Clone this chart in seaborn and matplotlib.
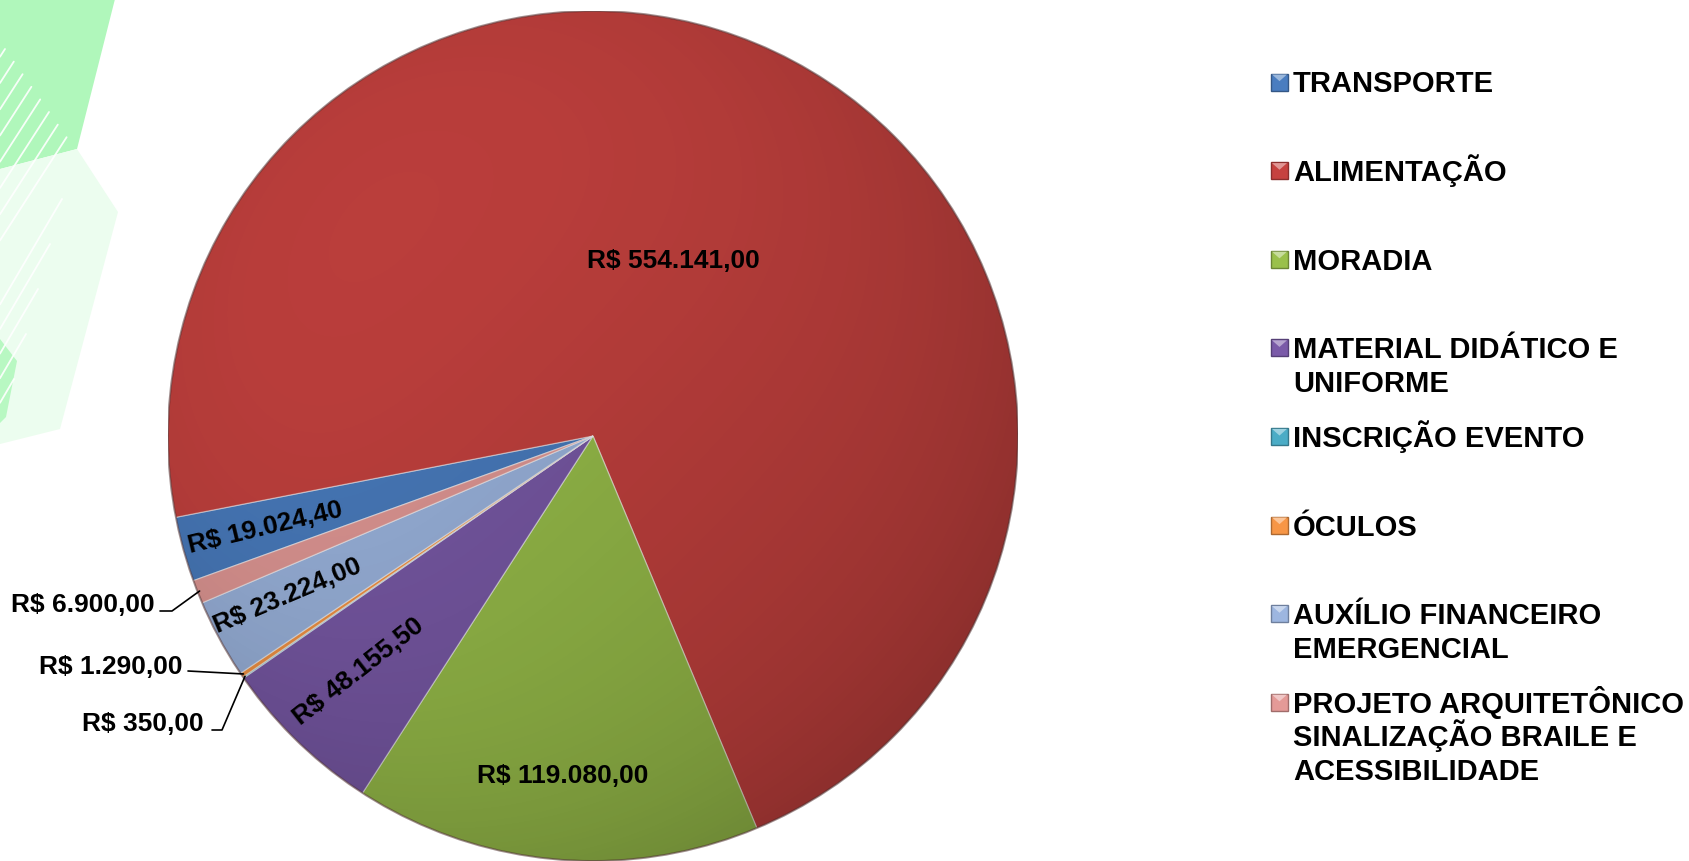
import textwrap
import numpy as np
import matplotlib
matplotlib.use("Agg")
import matplotlib.pyplot as plt
import seaborn as sns
from matplotlib.patches import Polygon, Rectangle, Circle
from matplotlib.colors import to_rgb

# ---------------- data ----------------
categories = ["TRANSPORTE", "ALIMENTAÇÃO", "MORADIA", "MATERIAL DIDÁTICO E UNIFORME",
              "INSCRIÇÃO EVENTO", "ÓCULOS", "AUXÍLIO FINANCEIRO EMERGENCIAL",
              "PROJETO ARQUITETÔNICO SINALIZAÇÃO BRAILE E ACESSIBILIDADE"]
values = [19024.40, 554141.00, 119080.00, 48155.50, 350.00, 1290.00, 23224.00, 6900.00]
colors = ["#4A7DC0", "#C6423F", "#9AC04B", "#7A5AA8", "#4BACC6", "#F79646", "#9DB6E0", "#E49A97"]


def brl(v):
    s = f"{v:,.2f}"
    return "R$ " + s.replace(",", "X").replace(".", ",").replace("X", ".")


value_labels = [brl(v) for v in values]

# ---------------- style ----------------
sns.set_theme(style="white")
plt.rcParams["font.family"] = ["Liberation Sans", "DejaVu Sans"]

W, H = 1690, 862
CX, CY, R = 593, 437, 425

fig = plt.figure(figsize=(W / 100, H / 100), dpi=100)
fig.patch.set_facecolor("white")


def fx(px):
    return px / W


def fy(py):
    return 1 - py / H


# decorative background shapes (left)
deco = [
    ([(0, 0), (115, 0), (77, 150), (0, 170)], "#B0F7BB"),
    ([(77, 150), (118, 213), (60, 430), (0, 445), (0, 170)], "#ECFDEF"),
    ([(0, 340), (17, 362), (6, 418), (0, 424)], "#B8F8C2"),
]
for pts, c in deco:
    fig.add_artist(Polygon([(fx(x), fy(y)) for x, y in pts], closed=True,
                           transform=fig.transFigure, fc=c, ec="none", zorder=-2))
for k in range(8):
    x0, y0 = 5 + 8.8 * k, 50 + 12.6 * k
    L = x0
    fig.add_artist(plt.Line2D([fx(x0), fx(0)], [fy(y0), fy(y0 + 1.55 * L)],
                              transform=fig.transFigure, color="white", lw=1.3,
                              alpha=0.9, zorder=-1))
for k in range(5):
    x0, y0 = 62 - 12 * k, 200 + 45 * k
    fig.add_artist(plt.Line2D([fx(x0), fx(0)], [fy(y0), fy(y0 + 1.7 * x0)],
                              transform=fig.transFigure, color="white", lw=1.3,
                              alpha=0.9, zorder=-1))

# ---------------- pie ----------------
ax = fig.add_axes([(CX - R) / W, (H - CY - R) / H, 2 * R / W, 2 * R / H])
wedges, _ = ax.pie(values, colors=colors, startangle=199.9, counterclock=False,
                   radius=1.0,
                   wedgeprops=dict(edgecolor=(1, 1, 1, 0.5), linewidth=0.9))

# shading overlay (darker towards bottom-right)
n = 300
xs = np.linspace(-1, 1, n)
X, Y = np.meshgrid(xs, xs)
t = np.clip((X - Y + 2) / 4, 0, 1)
rad = np.sqrt(X ** 2 + Y ** 2)
rgba = np.zeros((n, n, 4))
rgba[..., 3] = 0.28 * t ** 1.3 + 0.06 * np.clip(rad, 0, 1) ** 4
im = ax.imshow(rgba, extent=(-1, 1, -1, 1), origin="lower", zorder=3,
               interpolation="bilinear")
im.set_clip_path(Circle((0, 0), 1, transform=ax.transData))
ax.add_patch(Circle((0, 0), 1, fill=False, ec=(0.2, 0.05, 0.05, 0.45), lw=1.4, zorder=4))

ax.set_xlim(-1, 1)
ax.set_ylim(-1, 1)
ax.set_aspect("equal")
ax.axis("off")

mids = [np.deg2rad((w.theta1 + w.theta2) / 2) for w in wedges]

label_fs = 19
# index: (radius fraction, text rotation, angular offset in degrees)
inner = {0: (0.80, 13.5, 0), 1: (0.455, 0, 3.7), 2: (0.80, 0, 0),
         3: (0.78, 38, -1), 6: (0.81, 23, -1)}
for i, (r, rot, dth) in inner.items():
    a = mids[i] + np.deg2rad(dth)
    ax.text(r * np.cos(a), r * np.sin(a), value_labels[i], fontsize=label_fs,
            fontweight="bold", ha="center", va="center", rotation=rot,
            rotation_mode="anchor", color="black", zorder=6)


def p2d(px, py):
    return (px - CX) / R, (CY - py) / R


external = {
    7: dict(text=(155, 603), path=[(160, 612), (172, 612)]),
    5: dict(text=(183, 665), path=[(188, 672)]),
    4: dict(text=(204, 722), path=[(212, 731), (222, 731)]),
}
for i, spec in external.items():
    tx, ty = p2d(spec["text"][0], spec["text"][1] + 2)
    ax.text(tx, ty, value_labels[i], fontsize=label_fs, fontweight="bold",
            ha="right", va="center", color="black", zorder=6, clip_on=False)
    pts = [p2d(*p) for p in spec["path"]]
    a = mids[i]
    pts.append((0.995 * np.cos(a), 0.995 * np.sin(a)))
    xs_, ys_ = zip(*pts)
    ax.plot(xs_, ys_, color="black", lw=1.2, zorder=6, clip_on=False)

# ---------------- legend ----------------
LEG_TX, LEG_Y0, LEG_DY, LINE_DY = 1293, 82, 88.6, 33.5
MK_X, MK = 1271, 17
for i, cat in enumerate(categories):
    y = LEG_Y0 + LEG_DY * i
    for j, line in enumerate(textwrap.wrap(cat, 22)):
        fig.text(fx(LEG_TX), fy(y + LINE_DY * j + 10.5), line, fontsize=21,
                 fontweight="bold", ha="left", va="baseline", color="black")
    c = np.array(to_rgb(colors[i]))
    dark = tuple(c * 0.7)
    light = tuple(1 - (1 - c) * 0.55)
    top, bot = y - MK / 2 + 1, y + MK / 2 + 1
    fig.add_artist(Rectangle((fx(MK_X), fy(bot)), MK / W, MK / H,
                             transform=fig.transFigure, fc=colors[i], ec=dark, lw=1.0))
    fig.add_artist(Polygon([(fx(MK_X + 1), fy(top + 1)), (fx(MK_X + MK - 1), fy(top + 1)),
                            (fx(MK_X + MK / 2), fy(top + MK * 0.45))], closed=True,
                           transform=fig.transFigure, fc=light, ec="none"))

fig.savefig("out.png", dpi=100, facecolor="white")
